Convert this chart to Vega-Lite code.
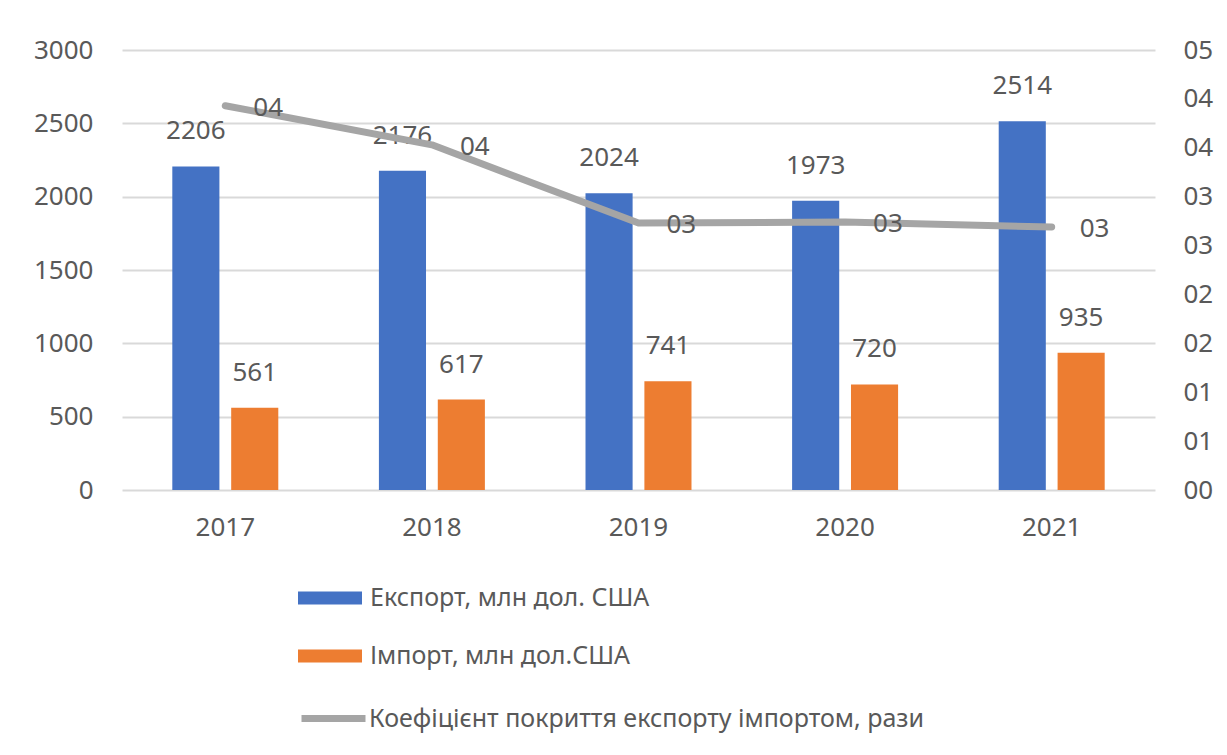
{
  "$schema": "https://vega.github.io/schema/vega-lite/v6.json",
  "width": 1033,
  "height": 440,
  "autosize": {"type": "none"},
  "padding": {"left": 122, "top": 50, "right": 72, "bottom": 265},
  "background": "white",
  "config": {
    "view": {"stroke": null},
    "font": "Noto Sans",
    "axis": {"labelColor": "#595959", "labelFontSize": 26, "labelFont": "Noto Sans", "ticks": false, "domain": false, "title": null},
    "legend": {"labelColor": "#595959", "labelFontSize": 25, "labelFont": "Noto Sans", "title": null, "labelLimit": 800}
  },
  "datasets": {
    "bars": [
      {"year": "2017", "series": "Експорт, млн дол. США", "value": 2206},
      {"year": "2017", "series": "Імпорт, млн дол.США", "value": 561},
      {"year": "2018", "series": "Експорт, млн дол. США", "value": 2176},
      {"year": "2018", "series": "Імпорт, млн дол.США", "value": 617},
      {"year": "2019", "series": "Експорт, млн дол. США", "value": 2024},
      {"year": "2019", "series": "Імпорт, млн дол.США", "value": 741},
      {"year": "2020", "series": "Експорт, млн дол. США", "value": 1973},
      {"year": "2020", "series": "Імпорт, млн дол.США", "value": 720},
      {"year": "2021", "series": "Експорт, млн дол. США", "value": 2514},
      {"year": "2021", "series": "Імпорт, млн дол.США", "value": 935}
    ],
    "ratio": [
      {"year": "2017", "name": "Коефіцієнт  покриття експорту імпортом, рази", "ratio": 3.93},
      {"year": "2018", "name": "Коефіцієнт  покриття експорту імпортом, рази", "ratio": 3.53},
      {"year": "2019", "name": "Коефіцієнт  покриття експорту імпортом, рази", "ratio": 2.73},
      {"year": "2020", "name": "Коефіцієнт  покриття експорту імпортом, рази", "ratio": 2.74},
      {"year": "2021", "name": "Коефіцієнт  покриття експорту імпортом, рази", "ratio": 2.69}
    ]
  },
  "layer": [
    {
      "data": {"name": "bars"},
      "encoding": {
        "x": {"field": "year", "type": "nominal", "scale": {"paddingInner": 0.487, "paddingOuter": 0.2435},
              "axis": {"labelAngle": 0, "labelPadding": 24, "grid": false}},
        "xOffset": {"field": "series", "type": "nominal", "scale": {"paddingInner": 0.2, "domain": ["Експорт, млн дол. США", "Імпорт, млн дол.США"]}},
        "y": {"field": "value", "type": "quantitative", "scale": {"domain": [0, 3000], "nice": false},
              "axis": {"values": [0, 500, 1000, 1500, 2000, 2500, 3000], "format": "d", "grid": true, "gridColor": "#D9D9D9", "gridWidth": 2, "labelPadding": 29}}
      },
      "layer": [
        {
          "mark": {"type": "bar"},
          "encoding": {
            "color": {"field": "series", "type": "nominal",
              "scale": {"domain": ["Експорт, млн дол. США", "Імпорт, млн дол.США"], "range": ["#4472C4", "#ED7D31"]},
              "legend": {"orient": "none", "legendX": 176, "legendY": 516, "direction": "vertical",
                "symbolType": "M-1,-0.2H1V0.2H-1Z", "symbolSize": 4096, "symbolStrokeWidth": 0, "symbolOpacity": 1,
                "rowPadding": 13, "labelOffset": 8}}
          }
        },
        {
          "mark": {"type": "text", "baseline": "bottom", "dy": -22, "fontSize": 26, "color": "#595959", "font": "Noto Sans"},
          "encoding": {"text": {"field": "value", "type": "quantitative"}}
        }
      ]
    },
    {
      "data": {"name": "ratio"},
      "encoding": {
        "x": {"field": "year", "type": "nominal"},
        "y": {"field": "ratio", "type": "quantitative", "scale": {"domain": [0, 4.5], "nice": false},
              "axis": {"orient": "right", "values": [0, 0.5, 1, 1.5, 2, 2.5, 3, 3.5, 4, 4.5], "format": "02.0f", "grid": false, "labelPadding": 28}}
      },
      "layer": [
        {
          "mark": {"type": "line", "strokeWidth": 7, "strokeCap": "round", "strokeJoin": "round"},
          "encoding": {
            "stroke": {"field": "name", "type": "nominal",
              "scale": {"domain": ["Коефіцієнт  покриття експорту імпортом, рази"], "range": ["#A5A5A5"]},
              "legend": {"orient": "none", "legendX": 176, "legendY": 633, "symbolType": "stroke", "symbolSize": 4096, "symbolStrokeWidth": 7, "labelOffset": 0}}
          }
        },
        {
          "mark": {"type": "text", "align": "left", "baseline": "middle", "dx": 28, "dy": 2, "fontSize": 26, "color": "#595959", "font": "Noto Sans"},
          "encoding": {"text": {"field": "ratio", "type": "quantitative", "format": "02.0f"}}
        }
      ]
    }
  ],
  "resolve": {"scale": {"y": "independent"}}
}
